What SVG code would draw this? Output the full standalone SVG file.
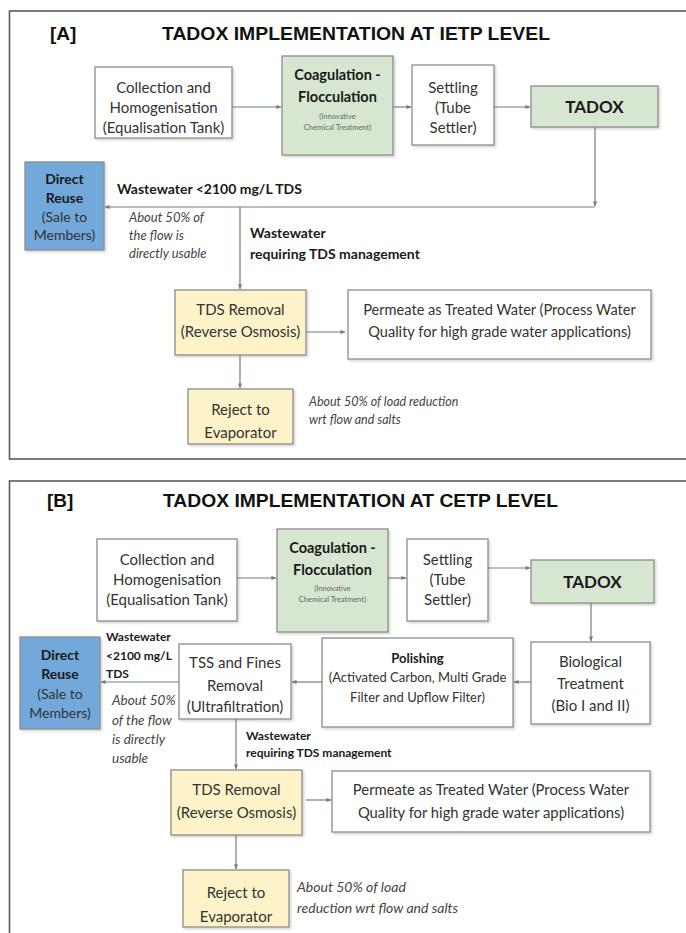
<svg xmlns="http://www.w3.org/2000/svg" width="686" height="933" viewBox="0 0 686 933">
<defs>
<marker id="ah" viewBox="0 0 6 6" refX="5.5" refY="3" markerWidth="5" markerHeight="5" orient="auto" markerUnits="userSpaceOnUse">
<path d="M0,0.5 L6,3 L0,5.5 Z" fill="#6d7f8c"/>
</marker>
<filter id="sh" x="-10%" y="-10%" width="130%" height="130%">
<feDropShadow dx="1.5" dy="1.5" stdDeviation="1" flood-color="#000" flood-opacity="0.18"/>
</filter>
<style>
.frame{fill:none;stroke:#5a5a5a;stroke-width:1.6}
.box{stroke:#8c8c8c;stroke-width:1.3;filter:url(#sh)}
.w{fill:#ffffff}
.g{fill:#d6e6d1}
.y{fill:#fdf2c8}
.b{fill:#72a8da}
.t{font-family:Lato,"Open Sans",sans-serif;font-size:15px;fill:#333;text-anchor:middle}
.sm{font-size:7.5px;fill:#666}
.tb{font-family:Lato,"Open Sans",sans-serif;font-weight:bold;fill:#1a1a1a}
.ti{font-family:Lato,"Open Sans",sans-serif;font-style:italic;fill:#444}
.hd{font-family:"Liberation Sans",Arial,sans-serif;font-weight:bold;font-size:19px;fill:#111}
.c{fill:none;stroke:#6d7f8c;stroke-width:1.2;marker-end:url(#ah)}
</style>
</defs>
<rect width="686" height="933" fill="#ffffff"/>

<!-- Panel A -->
<g id="panelA">
<rect class="frame" x="9.5" y="11" width="690" height="448"/>
<text class="hd" x="50" y="40">[A]</text>
<text class="hd" x="162" y="40" textLength="388" lengthAdjust="spacingAndGlyphs">TADOX IMPLEMENTATION AT IETP LEVEL</text>
</g>

<g id="a_collection">
<rect class="box w" x="95" y="67" width="137" height="71"/>
<text class="t" x="163.5" y="93">Collection and</text>
<text class="t" x="163.5" y="113">Homogenisation</text>
<text class="t" x="163.5" y="133">(Equalisation Tank)</text>
</g>
<g id="a_coag">
<rect class="box g" x="282" y="56" width="111" height="99"/>
<text class="t tb" x="337.5" y="80" style="font-size:14.5px">Coagulation -</text>
<text class="t tb" x="337.5" y="102" style="font-size:14.5px">Flocculation</text>
<text class="t sm" x="337.5" y="119">(Innovative</text>
<text class="t sm" x="337.5" y="130">Chemical Treatment)</text>
</g>
<g id="a_settling">
<rect class="box w" x="412" y="65" width="82" height="80"/>
<text class="t" x="453" y="93">Settling</text>
<text class="t" x="453" y="113">(Tube</text>
<text class="t" x="453" y="133">Settler)</text>
</g>
<g id="a_tadox">
<rect class="box g" x="531" y="86" width="127" height="41"/>
<text class="t tb" x="594.5" y="113" style="font-size:17px">TADOX</text>
</g>
<g id="a_reuse">
<rect class="box b" x="25" y="162" width="79" height="88"/>
<text class="t tb" x="64.5" y="184" style="font-size:14px">Direct</text>
<text class="t tb" x="64.5" y="203" style="font-size:14px">Reuse</text>
<text class="t" x="64.5" y="222" style="font-size:14px">(Sale to</text>
<text class="t" x="64.5" y="240" style="font-size:14px">Members)</text>
</g>
<g id="a_tds">
<rect class="box y" x="175" y="290" width="131" height="65"/>
<text class="t" x="240.5" y="315">TDS Removal</text>
<text class="t" x="240.5" y="337">(Reverse Osmosis)</text>
</g>
<g id="a_permeate">
<rect class="box w" x="348" y="290" width="303" height="69"/>
<text class="t" x="499.5" y="315" style="font-size:14.6px">Permeate as Treated Water (Process Water</text>
<text class="t" x="499.5" y="337" style="font-size:14.6px">Quality for high grade water applications)</text>
</g>
<g id="a_reject">
<rect class="box y" x="188" y="389" width="105" height="55"/>
<text class="t" x="240.5" y="415">Reject to</text>
<text class="t" x="240.5" y="438">Evaporator</text>
</g>
<g id="a_labels">
<text class="tb" x="117" y="194" style="font-size:14px">Wastewater &lt;2100 mg/L TDS</text>
<text class="ti" x="129" y="222" style="font-size:13px">About 50%  of</text>
<text class="ti" x="129" y="240" style="font-size:13px">the flow is</text>
<text class="ti" x="129" y="258" style="font-size:13px">directly usable</text>
<text class="tb" x="250" y="238" style="font-size:14px">Wastewater</text>
<text class="tb" x="250" y="259" style="font-size:14px">requiring TDS management</text>
<text class="ti" x="309" y="406" style="font-size:12.5px">About 50%  of load reduction</text>
<text class="ti" x="309" y="424" style="font-size:12.5px">wrt flow and salts</text>
</g>

<!-- Panel B -->
<g id="panelB">
<rect class="frame" x="9.5" y="481" width="690" height="470"/>
<text class="hd" x="47" y="507">[B]</text>
<text class="hd" x="163" y="507" textLength="395" lengthAdjust="spacingAndGlyphs">TADOX IMPLEMENTATION AT CETP LEVEL</text>
</g>

<g id="b_collection">
<rect class="box w" x="97" y="539" width="140" height="82"/>
<text class="t" x="167" y="565">Collection and</text>
<text class="t" x="167" y="585">Homogenisation</text>
<text class="t" x="167" y="605">(Equalisation Tank)</text>
</g>
<g id="b_coag">
<rect class="box g" x="277" y="529" width="111" height="103"/>
<text class="t tb" x="332.5" y="553" style="font-size:14.5px">Coagulation -</text>
<text class="t tb" x="332.5" y="575" style="font-size:14.5px">Flocculation</text>
<text class="t sm" x="332.5" y="591">(Innovative</text>
<text class="t sm" x="332.5" y="602">Chemical Treatment)</text>
</g>
<g id="b_settling">
<rect class="box w" x="407" y="539" width="81" height="82"/>
<text class="t" x="447.5" y="565">Settling</text>
<text class="t" x="447.5" y="585">(Tube</text>
<text class="t" x="447.5" y="605">Settler)</text>
</g>
<g id="b_tadox">
<rect class="box g" x="531" y="560" width="123" height="43"/>
<text class="t tb" x="592.5" y="588" style="font-size:17px">TADOX</text>
</g>
<g id="b_bio">
<rect class="box w" x="531" y="642" width="119" height="82"/>
<text class="t" x="590.5" y="667">Biological</text>
<text class="t" x="590.5" y="689">Treatment</text>
<text class="t" x="590.5" y="711">(Bio I and II)</text>
</g>
<g id="b_polishing">
<rect class="box w" x="322" y="638" width="191" height="89"/>
<text class="t tb" x="417.5" y="663" style="font-size:13px">Polishing</text>
<text class="t" x="417.5" y="682" style="font-size:13px">(Activated Carbon, Multi Grade</text>
<text class="t" x="417.5" y="702" style="font-size:13px">Filter and Upflow Filter)</text>
</g>
<g id="b_tss">
<rect class="box w" x="179" y="644" width="112" height="75"/>
<text class="t" x="235" y="668">TSS and Fines</text>
<text class="t" x="235" y="691">Removal</text>
<text class="t" x="235" y="712">(Ultrafiltration)</text>
</g>
<g id="b_reuse">
<rect class="box b" x="20" y="637" width="80" height="92"/>
<text class="t tb" x="60" y="660" style="font-size:14px">Direct</text>
<text class="t tb" x="60" y="679" style="font-size:14px">Reuse</text>
<text class="t" x="60" y="699" style="font-size:14px">(Sale to</text>
<text class="t" x="60" y="718" style="font-size:14px">Members)</text>
</g>
<g id="b_tds">
<rect class="box y" x="171" y="770" width="131" height="65"/>
<text class="t" x="236.5" y="795">TDS Removal</text>
<text class="t" x="236.5" y="818">(Reverse Osmosis)</text>
</g>
<g id="b_permeate">
<rect class="box w" x="332" y="771" width="318" height="61"/>
<text class="t" x="491" y="795" style="font-size:14.8px">Permeate as Treated Water (Process Water</text>
<text class="t" x="491" y="818" style="font-size:14.8px">Quality for high grade water applications)</text>
</g>
<g id="b_reject">
<rect class="box y" x="183" y="870" width="106" height="57"/>
<text class="t" x="236" y="898">Reject to</text>
<text class="t" x="236" y="922">Evaporator</text>
</g>
<g id="b_labels">
<text class="tb" x="106" y="641" style="font-size:12px">Wastewater</text>
<text class="tb" x="106" y="660" style="font-size:12px">&lt;2100 mg/L</text>
<text class="tb" x="106" y="678" style="font-size:12px">TDS</text>
<text class="ti" x="112" y="705" style="font-size:13.5px">About 50%</text>
<text class="ti" x="112" y="725" style="font-size:13.5px">of the flow</text>
<text class="ti" x="112" y="744" style="font-size:13.5px">is directly</text>
<text class="ti" x="112" y="763" style="font-size:13.5px">usable</text>
<text class="tb" x="246" y="740" style="font-size:12px">Wastewater</text>
<text class="tb" x="246" y="757" style="font-size:12px">requiring TDS management</text>
<text class="ti" x="297" y="892" style="font-size:14px">About 50%  of load</text>
<text class="ti" x="297" y="913" style="font-size:14px">reduction wrt flow and salts</text>
</g>

<g id="connectors">
<path class="c" d="M232,107 H281"/>
<path class="c" d="M393,107 H411"/>
<path class="c" d="M494,107 H530"/>
<path class="c" d="M595,127 V206"/>
<path class="c" d="M595,207 H105"/>
<path class="c" d="M240,207 V289"/>
<path class="c" d="M306,332 H345"/>
<path class="c" d="M240,355 V388"/>

<path class="c" d="M237,578 H276"/>
<path class="c" d="M388,578 H406"/>
<path class="c" d="M488,568 H530"/>
<path class="c" d="M591,603 V641"/>
<path class="c" d="M531,682 H514"/>
<path class="c" d="M322,682 H292"/>
<path class="c" d="M179,682 H101"/>
<path class="c" d="M236,719 V769"/>
<path class="c" d="M306,800 H331"/>
<path class="c" d="M236,835 V869"/>
</g>
</svg>
